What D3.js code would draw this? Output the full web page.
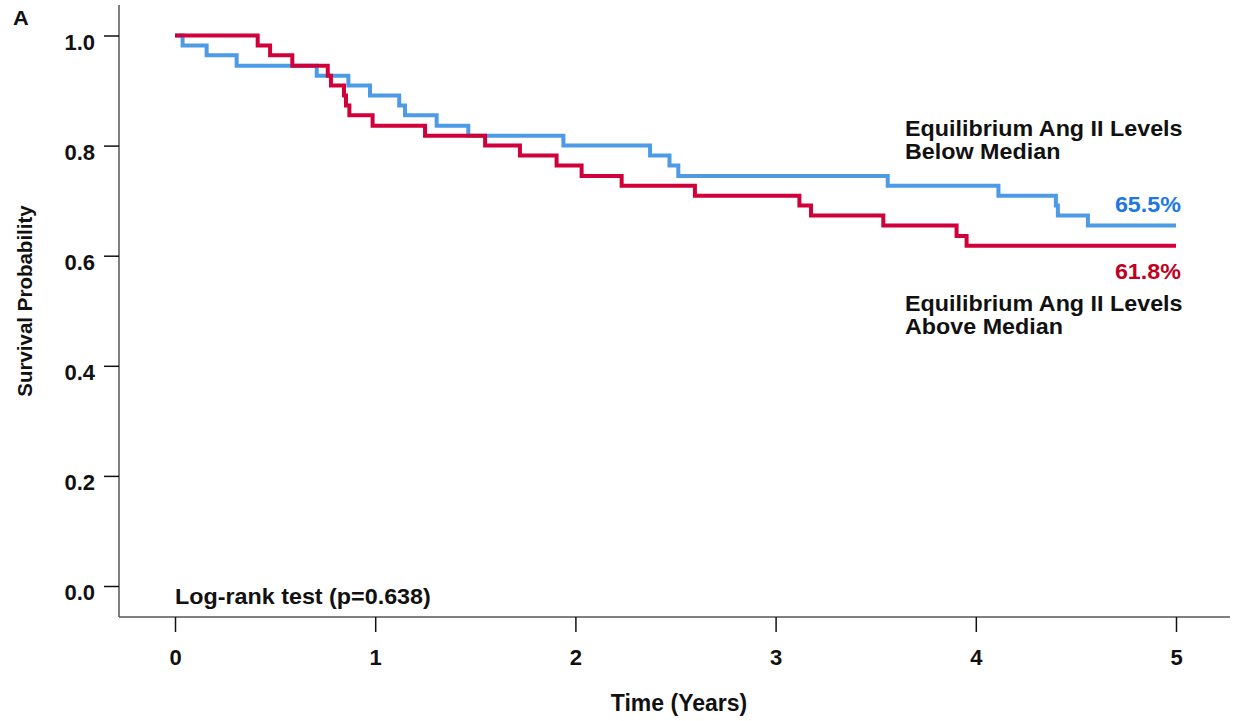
<!DOCTYPE html>
<html>
<head>
<meta charset="utf-8">
<script src="https://cdn.jsdelivr.net/npm/d3@7"></script>
<style>
  html, body { margin: 0; padding: 0; background: #fff; }
  svg { display: block; }
  text { font-family: "Liberation Sans", Arial, sans-serif; font-weight: bold; }
</style>
</head>
<body>
<svg id="chart" width="1233" height="721"></svg>
<script>
// Kaplan–Meier survival, n = 55 per group; event times in years and survival after each event
const belowTimes = [0, 0.038, 0.158, 0.308, 0.708, 0.866, 0.974, 1.120, 1.149, 1.307, 1.465,
                    1.940, 2.373, 2.470, 2.514, 3.560, 4.113, 4.400, 4.410, 4.560, 5];
const belowSurv  = [1.000, 0.982, 0.964, 0.945, 0.927, 0.909, 0.891, 0.873, 0.855, 0.836, 0.818,
                    0.800, 0.782, 0.764, 0.745, 0.727, 0.709, 0.691, 0.673, 0.655, 0.655];

const aboveTimes = [0, 0.413, 0.475, 0.586, 0.763, 0.779, 0.844, 0.854, 0.871, 0.987, 1.249,
                    1.549, 1.723, 1.906, 2.031, 2.231, 2.597, 3.119, 3.177, 3.538, 3.904, 3.954, 5];
const aboveSurv  = [1.000, 0.982, 0.964, 0.945, 0.927, 0.909, 0.891, 0.873, 0.855, 0.836, 0.818,
                    0.800, 0.782, 0.764, 0.745, 0.727, 0.709, 0.691, 0.673, 0.655, 0.636, 0.618, 0.618];

const xTicks = [0, 1, 2, 3, 4, 5];
const yTicks = [0.0, 0.2, 0.4, 0.6, 0.8, 1.0];

const blueLine = "#4d9be6", redLine = "#d0003a";
const blueText = "#1f78e0", redText = "#c0001f";

const svg = d3.select("#chart");
const x = d3.scaleLinear().domain([0, 5]).range([175, 1176]);
const y = d3.scaleLinear().domain([0, 1]).range([586, 35.5]);

const axisX = 119, axisY = 617;
const STRETCH = 1.06;   // slightly wide lettering for annotations

// frame lines
svg.append("line").attr("x1", axisX).attr("x2", axisX).attr("y1", 5).attr("y2", axisY)
  .attr("stroke", "#555").attr("stroke-width", 1.5);
svg.append("line").attr("x1", axisX).attr("x2", 1230).attr("y1", axisY).attr("y2", axisY)
  .attr("stroke", "#555").attr("stroke-width", 1.5);

// y axis
const gy = svg.append("g").attr("transform", `translate(${axisX},0)`)
  .call(d3.axisLeft(y).tickValues(yTicks).tickFormat(d3.format(".1f")).tickSize(15).tickPadding(9));
gy.select(".domain").remove();
gy.selectAll(".tick line").attr("stroke", "#111").attr("stroke-width", 1.5);
gy.selectAll(".tick text").attr("font-size", 22).attr("font-weight", "bold")
  .attr("fill", "#111").attr("dy", "0.62em").style("font-family", "'Liberation Sans', Arial, sans-serif");

// x axis
const gx = svg.append("g").attr("transform", `translate(0,${axisY})`)
  .call(d3.axisBottom(x).tickValues(xTicks).tickFormat(d3.format("d")).tickSize(15).tickPadding(17));
gx.select(".domain").remove();
gx.selectAll(".tick line").attr("stroke", "#111").attr("stroke-width", 1.5);
gx.selectAll(".tick text").attr("font-size", 22).attr("font-weight", "bold")
  .attr("fill", "#111").style("font-family", "'Liberation Sans', Arial, sans-serif");

// axis titles
svg.append("text").attr("x", 679).attr("y", 711).attr("text-anchor", "middle")
  .attr("font-size", 23).attr("fill", "#111").text("Time (Years)");
svg.append("text").attr("transform", "translate(32,301) rotate(-90)").attr("text-anchor", "middle")
  .attr("font-size", 20.5).attr("fill", "#111").text("Survival Probability");

// panel letter
svg.append("text").attr("transform", "translate(13,25) scale(1.12,1)")
  .attr("font-size", 19.5).attr("fill", "#111").text("A");

// survival curves
const line = d3.line().x(d => x(d[0])).y(d => y(d[1])).curve(d3.curveStepAfter);
const belowPts = belowTimes.map((t, i) => [t, belowSurv[i]]);
const abovePts = aboveTimes.map((t, i) => [t, aboveSurv[i]]);

svg.append("path").attr("d", line(belowPts)).attr("fill", "none")
  .attr("stroke", blueLine).attr("stroke-width", 4).attr("stroke-linejoin", "miter");
svg.append("path").attr("d", line(abovePts)).attr("fill", "none")
  .attr("stroke", redLine).attr("stroke-width", 4).attr("stroke-linejoin", "miter");

// helper: annotation text, widened horizontally
const label = (x0, y0, anchor, color, lines) => {
  const t = svg.append("text")
    .attr("transform", `translate(${x0},${y0}) scale(${STRETCH},1)`)
    .attr("text-anchor", anchor).attr("font-size", 22).attr("fill", color);
  lines.forEach((s, i) => t.append("tspan").attr("x", 0).attr("dy", i ? 23 : 0).text(s));
};

// end-of-follow-up labels
const pct = d3.format(".1%");
const lastBelow = belowSurv[belowSurv.length - 1], lastAbove = aboveSurv[aboveSurv.length - 1];
label(1181, y(lastBelow) - 13, "end", blueText, [pct(lastBelow)]);
label(1181, y(lastAbove) + 33, "end", redText, [pct(lastAbove)]);

// group names
label(905, 136, "start", "#111", ["Equilibrium Ang II Levels", "Below Median"]);
label(905, 311, "start", "#111", ["Equilibrium Ang II Levels", "Above Median"]);

// test result
label(175, 604, "start", "#111", ["Log-rank test (p=0.638)"]);
</script>
</body>
</html>
